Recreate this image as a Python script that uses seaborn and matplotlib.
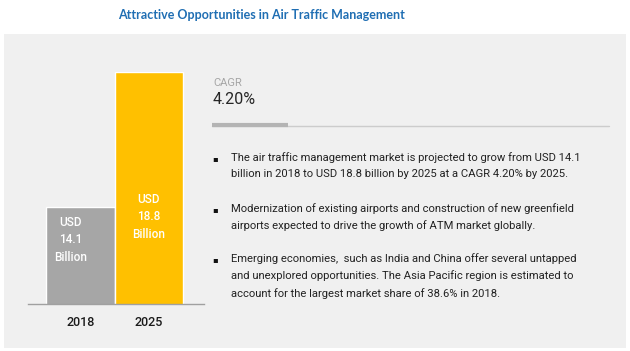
import numpy as np
import pandas as pd
import seaborn as sns
import matplotlib.pyplot as plt
from matplotlib.patches import Rectangle

# ------------------ DATA ------------------
years = ['2018', '2025']
market_usd_bn = [14.1, 18.8]
bar_colors = ['#a6a6a6', '#ffc000']
bar_labels = ['USD\n14.1\nBillion', 'USD\n18.8\nBillion']

title = 'Attractive Opportunities in Air Traffic Management'
cagr_label = 'CAGR'
cagr_value = '4.20%'
bullets = [
    'The air traffic management market is projected to grow from USD 14.1\n'
    'billion in 2018 to USD 18.8 billion by 2025 at a CAGR 4.20% by 2025.',
    'Modernization of existing airports and construction of new greenfield\n'
    'airports expected to drive the growth of ATM market globally.',
    'Emerging economies,  such as India and China offer several untapped\n'
    'and unexplored opportunities. The Asia Pacific region is estimated to\n'
    'account for the largest market share of 38.6% in 2018.',
]

df = pd.DataFrame({'Year': years, 'Value': market_usd_bn})

# ------------------ FIGURE ------------------
W, H = 630, 351
sns.set_style('white')
plt.rcParams['font.family'] = ['Roboto', 'DejaVu Sans']

fig = plt.figure(figsize=(W / 100, H / 100), dpi=100)
fig.patch.set_facecolor('white')


def fx(x):
    return x / W


def fy(y):
    return 1 - y / H


# grey panel (behind the axes)
fig.patches.append(Rectangle((fx(4), fy(348)), fx(622), 314 / H,
                             transform=fig.transFigure, facecolor='#f0f0f0',
                             edgecolor='none', zorder=-5))

fig.text(fx(262), fy(15), title, ha='center', va='center', fontsize=9,
         fontweight='bold', color='#1f6eb3', family=['Lato', 'DejaVu Sans'])

# ------------------ BARS ------------------
ax = fig.add_axes([fx(28), fy(304), fx(176), 232 / H])
ax.set_facecolor('none')
sns.barplot(data=df, x='Year', y='Value', hue='Year', palette=bar_colors,
            width=1.0, legend=False, ax=ax, saturation=1)
ax.set_ylim(10.72, 18.8)
ax.set_xlim(-0.76, 1.8)
ax.set_xlabel('')
ax.set_ylabel('')
ax.set_yticks([])
for s in ['top', 'left', 'right']:
    ax.spines[s].set_visible(False)
ax.spines['bottom'].set_color('#a0a0a0')
ax.spines['bottom'].set_linewidth(1.0)
ax.tick_params(axis='x', length=0, pad=9, labelsize=9, labelcolor='#1a1a1a')
for t in ax.get_xticklabels():
    t.set_fontweight('medium')

label_xoff = [-0.14, 0.0]
label_yfrac = [0.276, 0.375]
for i, txt in enumerate(bar_labels):
    ax.text(i + label_xoff[i], label_yfrac[i], txt,
            transform=ax.get_xaxis_transform(), ha='center', va='center',
            color='white', fontsize=8.5, linespacing=1.45,
            fontweight='medium')

# ------------------ RIGHT TEXT ------------------
fig.text(fx(213), fy(83), cagr_label, ha='left', va='center', fontsize=8,
         color='#a6a6a6')
fig.text(fx(213), fy(99), cagr_value, ha='left', va='center', fontsize=11.5,
         color='#262626')
fig.add_artist(plt.Line2D([fx(212), fx(609)], [fy(126), fy(126)],
                          transform=fig.transFigure, color='#cccccc', lw=1))
fig.add_artist(plt.Line2D([fx(212), fx(288)], [fy(124.5), fy(124.5)],
                          transform=fig.transFigure, color='#b4b4b4', lw=3,
                          solid_capstyle='butt'))

bullet_tops = [159, 210, 260]
for yb, txt in zip(bullet_tops, bullets):
    fig.text(fx(215), fy(yb), '\u25aa', ha='center', va='center',
             fontsize=6, color='#111111', family='DejaVu Sans')
    fig.text(fx(231), fy(yb) + 7 / H, txt, ha='left', va='top', fontsize=8.1,
             color='#222222', linespacing=1.75)

fig.savefig('out.png', dpi=100)
